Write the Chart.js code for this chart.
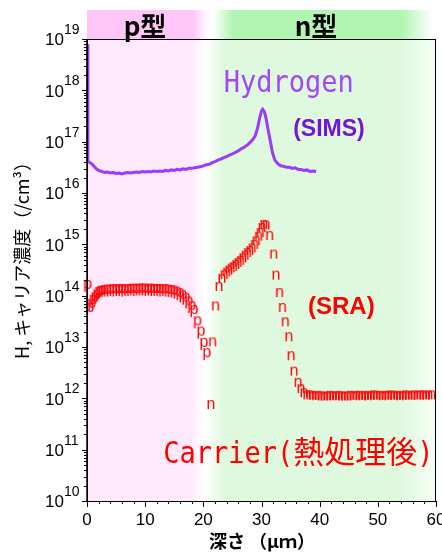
<!DOCTYPE html>
<html>
<head>
<meta charset="utf-8">
<script src="https://cdn.jsdelivr.net/npm/chart.js@4.4.0/dist/chart.umd.min.js"></script>
<style>
  html, body { margin: 0; padding: 0; background: #fff; }
</style>
</head>
<body>
<canvas id="chart" width="442" height="552"></canvas>
<script>
// 수소 (SIMS) 깊이 프로파일: 깊이(µm) / log10 농도
const hDepth = [0.15, 0.15, 0.4, 0.8, 1.2, 1.6, 2.0, 2.5, 3.0, 3.5, 4.0, 4.5, 5.0, 5.5, 6.0, 6.5, 7.0, 7.5, 8.0, 8.5,
  9.0, 9.5, 10.0, 10.5, 11.0, 11.5, 12.0, 12.5, 13.0, 13.5, 14.0, 14.5, 15.0, 15.5, 16.0, 16.5, 17.0, 17.5, 18.0, 18.5,
  19.0, 19.5, 20.0, 20.5, 21.0, 21.5, 22.0, 22.5, 23.0, 23.5, 24.0, 24.5, 25.0, 25.5, 26.0, 26.5, 27.0, 27.5, 28.0, 28.5,
  28.9, 29.3, 29.7, 30.0, 30.2, 30.5, 30.8, 31.1, 31.5, 31.9, 32.3, 32.8, 33.3, 33.8, 34.3, 34.8, 35.3, 35.8, 36.3, 36.8,
  37.3, 37.8, 38.3, 38.8, 39.4];
const hLog = [18.9, 16.62, 16.60, 16.57, 16.52, 16.47, 16.44, 16.42, 16.40, 16.41, 16.39, 16.40, 16.38, 16.39, 16.37, 16.39, 16.40, 16.39, 16.40, 16.41,
  16.40, 16.42, 16.41, 16.42, 16.41, 16.43, 16.42, 16.43, 16.42, 16.44, 16.43, 16.45, 16.44, 16.46, 16.45, 16.47, 16.46, 16.48, 16.48, 16.49,
  16.50, 16.51, 16.53, 16.55, 16.56, 16.59, 16.61, 16.64, 16.66, 16.69, 16.71, 16.74, 16.76, 16.79, 16.82, 16.86, 16.89, 16.93, 16.98, 17.04,
  17.11, 17.25, 17.47, 17.60, 17.63, 17.58, 17.45, 17.25, 17.02, 16.78, 16.64, 16.57, 16.53, 16.52, 16.50, 16.50, 16.48, 16.49, 16.46, 16.46,
  16.44, 16.45, 16.42, 16.43, 16.42];

// 캐리어 (SRA) p형 영역
const pDepth = [0.1, 0.5, 0.8, 1.1, 1.4, 1.7, 2.0, 2.3, 2.6, 3.0, 3.5, 4.0, 4.5, 5.0, 5.5, 6.0, 6.5, 7.0, 7.5, 8.0,
  8.5, 9.0, 9.5, 10.0, 10.5, 11.0, 11.5, 12.0, 12.5, 13.0, 13.5, 14.0, 14.5, 15.0, 15.5, 16.0, 16.5, 17.0, 17.5, 18.0,
  18.4, 19.0, 19.6, 20.1, 20.6];
const pLog = [14.21, 13.76, 13.84, 13.92, 13.97, 14.02, 14.07, 14.09, 14.10, 14.11, 14.12, 14.12, 14.13, 14.12, 14.13, 14.13, 14.12, 14.13, 14.13, 14.14,
  14.13, 14.14, 14.14, 14.14, 14.13, 14.14, 14.13, 14.13, 14.13, 14.12, 14.13, 14.12, 14.11, 14.10, 14.08, 14.05, 14.01, 13.96, 13.89, 13.80,
  13.72, 13.50, 13.30, 13.08, 12.88];

// 캐리어 (SRA) n형 영역
const nDepth = [21.3, 21.6, 22.1, 22.7, 23.2, 23.6, 24.0, 24.4, 24.8, 25.2, 25.6, 26.0, 26.4, 26.8, 27.2, 27.6, 28.0, 28.4, 28.8, 29.1,
  29.5, 29.8, 30.1, 30.4, 30.8, 31.4, 32.1, 32.5, 33.1, 33.6, 34.1, 34.7, 35.1, 35.6, 36.3, 36.8, 37.3, 37.8,
  38.3, 38.8, 39.3, 39.8, 40.3, 40.8, 41.3, 41.8, 42.3, 42.8, 43.3, 43.8, 44.3, 44.8, 45.3, 45.8, 46.3, 46.8, 47.3, 47.8,
  48.3, 48.8, 49.3, 49.8, 50.3, 50.8, 51.3, 51.8, 52.3, 52.8, 53.3, 53.8, 54.3, 54.8, 55.3, 55.8, 56.3, 56.8, 57.3, 57.8,
  58.3, 58.8, 59.3];
const nLog = [11.87, 13.09, 13.79, 14.17, 14.33, 14.40, 14.45, 14.49, 14.53, 14.56, 14.60, 14.64, 14.68, 14.73, 14.78, 14.83, 14.87, 14.92, 14.99, 15.06,
  15.15, 15.22, 15.32, 15.38, 15.37, 15.16, 14.80, 14.39, 14.05, 13.76, 13.48, 13.19, 12.82, 12.52, 12.30, 12.18, 12.10, 12.06,
  12.06, 12.05, 12.04, 12.05, 12.04, 12.03, 12.04, 12.05, 12.04, 12.04, 12.05, 12.04, 12.03, 12.04, 12.05, 12.04, 12.05, 12.05, 12.04, 12.05,
  12.04, 12.05, 12.06, 12.05, 12.05, 12.04, 12.05, 12.05, 12.06, 12.05, 12.05, 12.04, 12.05, 12.06, 12.05, 12.05, 12.06, 12.05, 12.06, 12.06,
  12.05, 12.06, 12.06];

// 축 눈금
const xTicks = [0, 10, 20, 30, 40, 50, 60];
const yExps = [10, 11, 12, 13, 14, 15, 16, 17, 18, 19];

const toPoints = (xs, logs) => xs.map((x, i) => ({ x: x, y: Math.pow(10, logs[i]) }));

// 글자 모양 마커 (p / n)
function letterMarker(ch) {
    const c = document.createElement('canvas');
    c.width = 14; c.height = 20;
    const g = c.getContext('2d');
    g.fillStyle = '#ff0000';
    g.font = '16px "Liberation Sans", Arial, sans-serif';
    g.textAlign = 'center';
    g.textBaseline = 'alphabetic';
    g.fillText(ch, 7, 14);
    return c;
}

// 모노스페이스 글자를 가로로 살짝 줄여서 그리기
function drawScaled(ctx, text, x, y, font, sx) {
    ctx.save();
    ctx.translate(x, y);
    ctx.scale(sx, 1);
    ctx.font = font;
    ctx.fillText(text, 0, 0);
    const w = ctx.measureText(text).width * sx;
    ctx.restore();
    return w;
}

const decor = {
    id: 'decor',
    beforeDatasetsDraw(chart) {
        const { ctx, chartArea: a } = chart;
        const w = a.right - a.left;
        ctx.save();
        // 상단 p형 / n형 띠
        const gh = ctx.createLinearGradient(a.left, 0, a.right, 0);
        gh.addColorStop(0, '#ffc6f8');
        gh.addColorStop(18.3 / 60, '#ffc6f8');
        gh.addColorStop(20.8 / 60, '#ffffff');
        gh.addColorStop(21.6 / 60, '#ffffff');
        gh.addColorStop(25.0 / 60, '#b2f5b2');
        gh.addColorStop(54.2 / 60, '#b2f5b2');
        gh.addColorStop(59.5 / 60, '#ffffff');
        gh.addColorStop(1, '#ffffff');
        ctx.fillStyle = gh;
        ctx.fillRect(a.left, 10, w, a.top - 10);
        // 플롯 영역 배경
        const gb = ctx.createLinearGradient(a.left, 0, a.right, 0);
        gb.addColorStop(0, '#ffe9fd');
        gb.addColorStop(17.8 / 60, '#ffe9fd');
        gb.addColorStop(20.3 / 60, '#ffffff');
        gb.addColorStop(23.5 / 60, '#dff9df');
        gb.addColorStop(54.0 / 60, '#dff9df');
        gb.addColorStop(1, '#f6fef6');
        ctx.fillStyle = gb;
        ctx.fillRect(a.left, a.top, w, a.bottom - a.top);

        ctx.fillStyle = '#000';
        ctx.font = 'bold 26px "Noto Sans CJK JP"';
        ctx.textAlign = 'center';
        ctx.textBaseline = 'middle';
        ctx.fillText('p型', 145, 26);
        ctx.fillText('n型', 316, 26);
        ctx.restore();
    },
    afterDraw(chart) {
        const { ctx, chartArea: a, scales: { x, y } } = chart;
        ctx.save();
        ctx.strokeStyle = '#000';
        ctx.lineWidth = 1;
        ctx.strokeRect(a.left + 0.5, a.top + 0.5, a.right - a.left - 1, a.bottom - a.top);
        ctx.lineWidth = 1.5;
        ctx.beginPath();
        ctx.moveTo(a.left, a.top); ctx.lineTo(a.left, a.bottom + 1);
        ctx.stroke();

        // y축 눈금 (로그)
        ctx.lineWidth = 1;
        ctx.beginPath();
        yExps.forEach(e => {
            const py = Math.round(y.getPixelForValue(Math.pow(10, e))) + 0.5;
            ctx.moveTo(a.left - 5, py); ctx.lineTo(a.left, py);
            if (e < 19) {
                for (let k = 2; k <= 9; k++) {
                    const my = Math.round(y.getPixelForValue(k * Math.pow(10, e))) + 0.5;
                    ctx.moveTo(a.left - 3, my); ctx.lineTo(a.left, my);
                }
            }
        });
        // x축 눈금
        for (let v = 0; v <= 60; v += 2) {
            const px = Math.round(x.getPixelForValue(v)) + 0.5;
            const len = v % 10 === 0 ? 6 : 3;
            ctx.moveTo(px, a.bottom); ctx.lineTo(px, a.bottom + len);
        }
        ctx.stroke();

        // y축 라벨 10^n
        ctx.fillStyle = '#000';
        yExps.forEach(e => {
            const py = y.getPixelForValue(Math.pow(10, e));
            ctx.font = '17px "Liberation Sans", Arial, sans-serif';
            ctx.textAlign = 'right';
            ctx.textBaseline = 'middle';
            ctx.fillText('10', 64, py + 1.5);
            ctx.font = '14px "Liberation Sans", Arial, sans-serif';
            ctx.textAlign = 'left';
            ctx.textBaseline = 'alphabetic';
            ctx.fillText(String(e), 64, py - 5);
        });
        // x축 라벨
        ctx.font = '17px "Liberation Sans", Arial, sans-serif';
        ctx.textAlign = 'center';
        ctx.textBaseline = 'middle';
        xTicks.forEach(v => ctx.fillText(String(v), x.getPixelForValue(v), 520));

        // 축 제목
        ctx.font = 'bold 18px "Noto Sans CJK JP"';
        ctx.fillText('深さ （μｍ）', 262, 541);
        ctx.save();
        ctx.translate(22, 256);
        ctx.rotate(-Math.PI / 2);
        ctx.font = '18px "Noto Sans CJK JP"';
        ctx.fillText('H, キャリア濃度（/cm³）', 0, 0);
        ctx.restore();

        // 주석 텍스트
        const mono = '30px "DejaVu Sans Mono", monospace';
        ctx.textAlign = 'left';
        ctx.textBaseline = 'alphabetic';
        ctx.fillStyle = '#a247ff';
        drawScaled(ctx, 'Hydrogen', x.getPixelForValue(23.5), y.getPixelForValue(Math.pow(10, 17.975)), mono, 0.9);

        ctx.fillStyle = '#7414d6';
        ctx.font = 'bold 23px "Liberation Sans", Arial, sans-serif';
        ctx.textBaseline = 'middle';
        ctx.fillText('(SIMS)', x.getPixelForValue(35.45), y.getPixelForValue(Math.pow(10, 17.23)));

        ctx.fillStyle = '#ff0000';
        ctx.font = 'bold 24px "Liberation Sans", Arial, sans-serif';
        ctx.fillText('(SRA)', x.getPixelForValue(38.0), y.getPixelForValue(Math.pow(10, 13.78)));

        ctx.textBaseline = 'alphabetic';
        let cx = x.getPixelForValue(13.1);
        const cy = y.getPixelForValue(Math.pow(10, 10.75));
        cx += drawScaled(ctx, 'Carrier(', cx, cy, mono, 0.9);
        ctx.font = '31px "Noto Sans CJK JP"';
        ctx.fillText('熱処理後', cx, cy);
        cx += ctx.measureText('熱処理後').width;
        drawScaled(ctx, ')', cx, cy, mono, 0.9);
        ctx.restore();
    }
};

function initChart() {
    const ctx = document.getElementById('chart').getContext('2d');
    new Chart(ctx, {
        type: 'scatter',
        data: {
            datasets: [{
                label: 'Hydrogen (SIMS)',
                data: toPoints(hDepth, hLog),
                showLine: true,
                borderColor: '#9b3bff',
                borderWidth: 3,
                pointRadius: 0,
                tension: 0,
                clip: false
            }, {
                label: 'p',
                data: toPoints(pDepth, pLog),
                pointStyle: letterMarker('p'),
                pointRadius: 4,
                clip: false
            }, {
                label: 'n',
                data: toPoints(nDepth, nLog),
                pointStyle: letterMarker('n'),
                pointRadius: 4,
                clip: false
            }]
        },
        options: {
            responsive: false,
            animation: false,
            events: [],
            layout: { padding: { top: 39, right: 6, left: 0, bottom: 0 } },
            scales: {
                x: {
                    type: 'linear', min: 0, max: 60,
                    grid: { display: false }, border: { display: false },
                    ticks: { display: false },
                    afterFit: s => { s.height = 51; }
                },
                y: {
                    type: 'logarithmic', min: 1e10, max: 1e19,
                    grid: { display: false }, border: { display: false },
                    ticks: { display: false },
                    afterFit: s => { s.width = 87; }
                }
            },
            plugins: {
                legend: { display: false },
                tooltip: { enabled: false }
            }
        },
        plugins: [decor]
    });
}

document.addEventListener("DOMContentLoaded", initChart);
</script>
</body>
</html>
